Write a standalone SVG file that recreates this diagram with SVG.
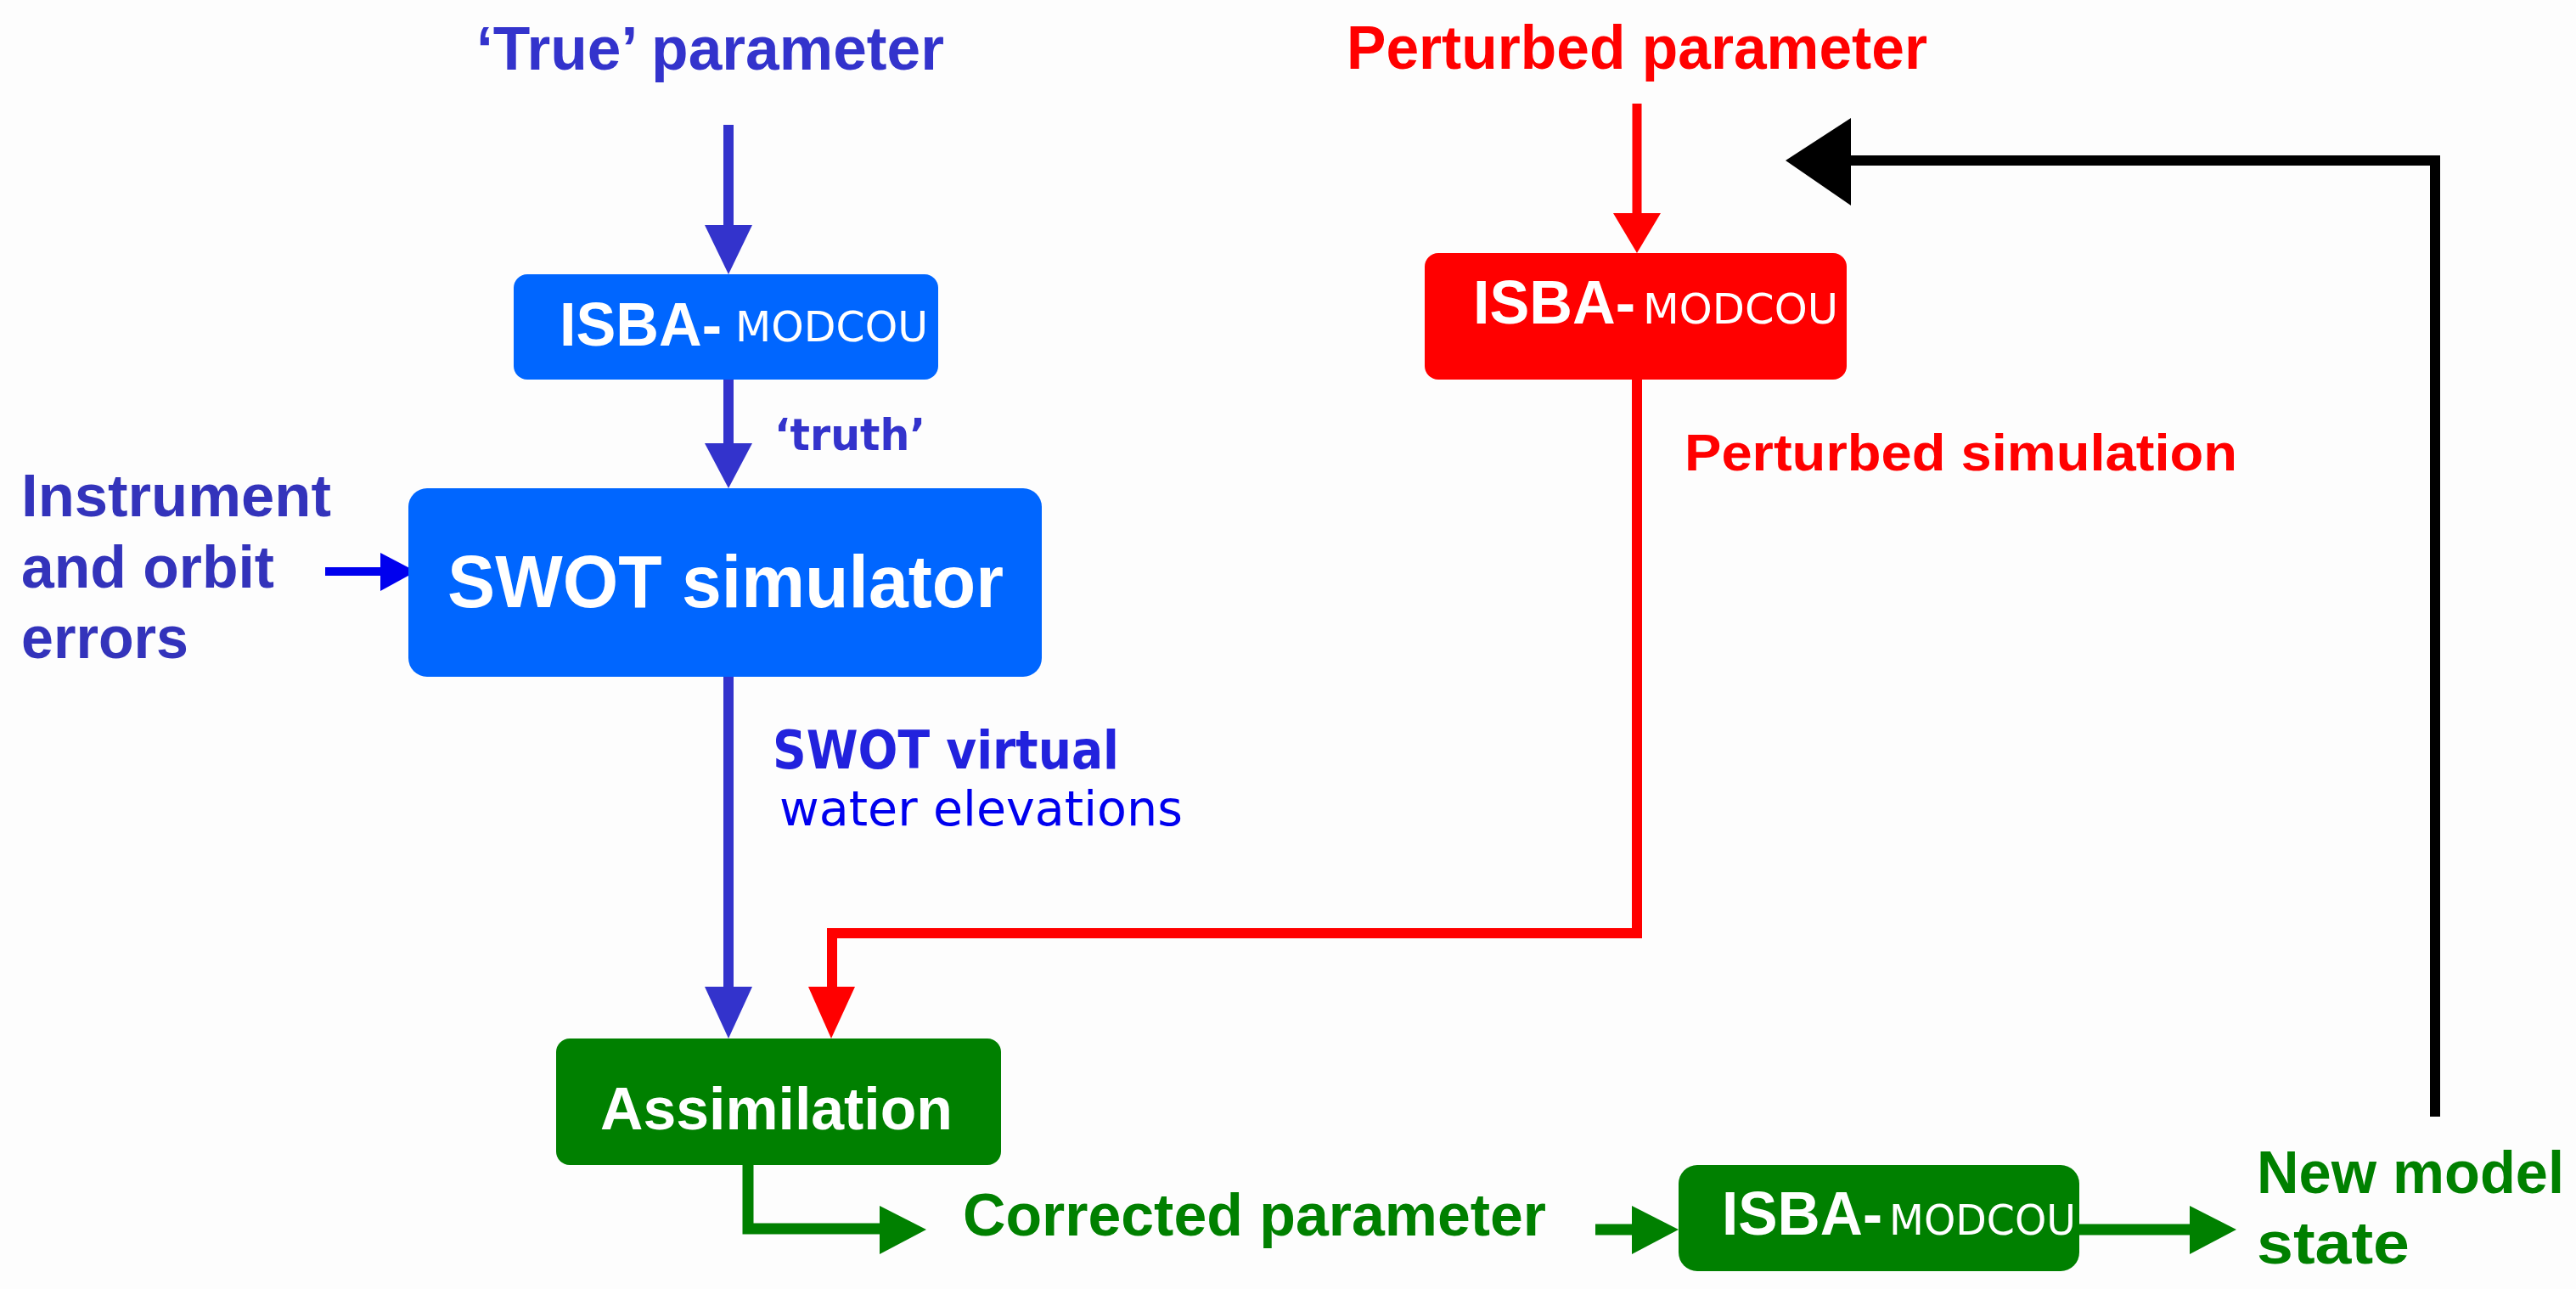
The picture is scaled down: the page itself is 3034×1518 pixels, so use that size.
<svg xmlns="http://www.w3.org/2000/svg" width="3034" height="1518" viewBox="0 0 3034 1518">
<style>
.b{font-family:"Liberation Sans",Arial,sans-serif;font-weight:bold}
.d{font-family:"DejaVu Sans",Verdana,sans-serif}
.w{fill:#ffffff}
.ind{fill:#3333cc}
.red{fill:#ff0000}
.grn{fill:#008000}
.ln{fill:none;stroke-linejoin:miter;stroke-linecap:butt}
</style>
<rect x="0" y="0" width="3034" height="1518" fill="#fdfdfd"/>

<g id="connectors">
  <g id="true-to-isba">
    <line class="ln" x1="858" y1="147" x2="858" y2="268" stroke="#3333cc" stroke-width="12"/>
    <polygon points="830,265 886,265 858,323" fill="#3333cc"/>
  </g>
  <g id="isba-to-swot">
    <line class="ln" x1="858" y1="447" x2="858" y2="525" stroke="#3333cc" stroke-width="12"/>
    <polygon points="830,522 886,522 858,575" fill="#3333cc"/>
  </g>
  <g id="errors-to-swot">
    <line class="ln" x1="383" y1="673" x2="452" y2="673" stroke="#0000ee" stroke-width="10"/>
    <polygon points="448,651 448,696 490,673" fill="#0000ee"/>
  </g>
  <g id="swot-to-assim">
    <line class="ln" x1="858" y1="797" x2="858" y2="1165" stroke="#3333cc" stroke-width="12"/>
    <polygon points="830,1162 886,1162 858,1223" fill="#3333cc"/>
  </g>
  <g id="pert-to-isba">
    <line class="ln" x1="1928" y1="122" x2="1928" y2="254" stroke="#ff0000" stroke-width="11"/>
    <polygon points="1900,251 1956,251 1928,298" fill="#ff0000"/>
  </g>
  <g id="isba-red-to-assim">
    <path class="ln" d="M1928 447 V1099 H980 V1165" stroke="#ff0000" stroke-width="12"/>
    <polygon points="952,1162 1007,1162 979,1223" fill="#ff0000"/>
  </g>
  <g id="feedback">
    <path class="ln" d="M2868 1315 V189 H2178" stroke="#000000" stroke-width="12"/>
    <polygon points="2180,139 2180,242 2103,189" fill="#000000"/>
  </g>
  <g id="assim-to-corrected">
    <path class="ln" d="M881 1372 V1447 H1039" stroke="#008000" stroke-width="13"/>
    <polygon points="1036,1420 1036,1477 1091,1448" fill="#008000"/>
  </g>
  <g id="corrected-to-isba">
    <line class="ln" x1="1879" y1="1448" x2="1925" y2="1448" stroke="#008000" stroke-width="13"/>
    <polygon points="1922,1420 1922,1477 1977,1448" fill="#008000"/>
  </g>
  <g id="isba-to-state">
    <line class="ln" x1="2449" y1="1448" x2="2582" y2="1448" stroke="#008000" stroke-width="13"/>
    <polygon points="2579,1420 2579,1477 2634,1448" fill="#008000"/>
  </g>
</g>

<g id="true-parameter">
  <text class="b ind" x="561" y="82" font-size="72" textLength="551" lengthAdjust="spacingAndGlyphs">‘True’ parameter</text>
</g>

<g id="perturbed-parameter">
  <text class="b red" x="1586" y="81" font-size="72" textLength="684" lengthAdjust="spacingAndGlyphs">Perturbed parameter</text>
</g>

<g id="isba-truth">
  <rect x="605" y="323" width="500" height="124" rx="16" fill="#0066ff"/>
  <text class="b w" x="659" y="407" font-size="72" textLength="191" lengthAdjust="spacingAndGlyphs">ISBA-</text>
  <text class="d w" x="866" y="402" font-size="49" textLength="227" lengthAdjust="spacingAndGlyphs">MODCOU</text>
</g>

<g id="truth-label">
  <text class="d ind" font-weight="bold" x="912" y="530" font-size="52" textLength="178" lengthAdjust="spacingAndGlyphs">‘truth’</text>
</g>

<g id="errors">
  <text class="b" fill="#3333bb" font-size="70">
    <tspan x="25" y="608" textLength="365" lengthAdjust="spacingAndGlyphs">Instrument</tspan>
    <tspan x="25" y="692" textLength="298" lengthAdjust="spacingAndGlyphs">and orbit</tspan>
    <tspan x="25" y="775" textLength="197" lengthAdjust="spacingAndGlyphs">errors</tspan>
  </text>
</g>

<g id="swot-simulator">
  <rect x="481" y="575" width="746" height="222" rx="22" fill="#0066ff"/>
  <text class="b w" x="527" y="715" font-size="87" textLength="655" lengthAdjust="spacingAndGlyphs">SWOT simulator</text>
</g>

<g id="swot-label">
  <text class="d" font-weight="bold" fill="#2222dd" x="910" y="905" font-size="62" textLength="408" lengthAdjust="spacingAndGlyphs">SWOT virtual</text>
  <text class="d" fill="#0000ee" x="918" y="972" font-size="57" textLength="475" lengthAdjust="spacingAndGlyphs">water elevations</text>
</g>

<g id="isba-perturbed">
  <rect x="1678" y="298" width="497" height="149" rx="16" fill="#ff0000"/>
  <text class="b w" x="1735" y="381" font-size="72" textLength="191" lengthAdjust="spacingAndGlyphs">ISBA-</text>
  <text class="d w" x="1935" y="381" font-size="49" textLength="230" lengthAdjust="spacingAndGlyphs">MODCOU</text>
</g>

<g id="perturbed-simulation">
  <text class="b red" x="1984" y="554" font-size="62" textLength="651" lengthAdjust="spacingAndGlyphs">Perturbed simulation</text>
</g>

<g id="assimilation">
  <rect x="655" y="1223" width="524" height="149" rx="16" fill="#008000"/>
  <text class="b w" x="707" y="1330" font-size="70" textLength="415" lengthAdjust="spacingAndGlyphs">Assimilation</text>
</g>

<g id="corrected-parameter">
  <text class="b grn" x="1134" y="1455" font-size="70" textLength="687" lengthAdjust="spacingAndGlyphs">Corrected parameter</text>
</g>

<g id="isba-new">
  <rect x="1977" y="1372" width="472" height="125" rx="22" fill="#008000"/>
  <text class="b w" x="2028" y="1454" font-size="72" textLength="189" lengthAdjust="spacingAndGlyphs">ISBA-</text>
  <text class="d w" x="2225" y="1454" font-size="49" textLength="220" lengthAdjust="spacingAndGlyphs">MODCOU</text>
</g>

<g id="new-model-state">
  <text class="b grn" font-size="70">
    <tspan x="2658" y="1405" textLength="362" lengthAdjust="spacingAndGlyphs">New model</tspan>
    <tspan x="2658" y="1488" textLength="180" lengthAdjust="spacingAndGlyphs">state</tspan>
  </text>
</g>
</svg>
